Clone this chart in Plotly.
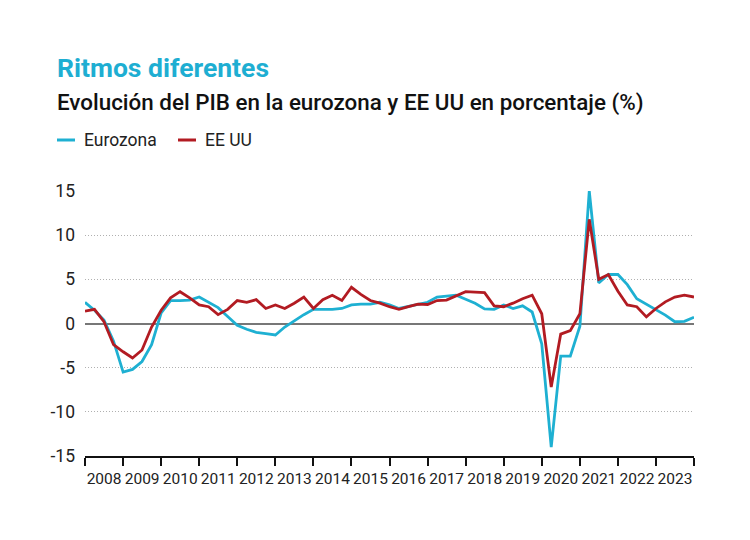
import pandas as pd
import plotly.graph_objects as go

# Quarterly data, 2008-T1 .. 2024-T1 (year-on-year GDP growth, %)
quarters = pd.date_range("2008-01-01", periods=65, freq="QS")

eurozona = [
    2.4, 1.5, 0.4, -2.0, -5.5, -5.2, -4.3, -2.4,
    1.2, 2.6, 2.6, 2.65, 3.0, 2.4, 1.8, 0.8,
    -0.2, -0.65, -1.0, -1.15, -1.3, -0.4, 0.3, 1.0,
    1.6, 1.6, 1.6, 1.7, 2.1, 2.2, 2.2, 2.4,
    2.1, 1.7, 1.95, 2.2, 2.4, 3.0, 3.1, 3.2,
    2.75, 2.3, 1.65, 1.6, 2.1, 1.7, 2.0, 1.3,
    -2.3, -14.0, -3.7, -3.7, -0.3, 15.0, 4.6, 5.55,
    5.55, 4.4, 2.8, 2.2, 1.6, 0.95, 0.2, 0.25,
    0.7,
]

eeuu = [
    1.4, 1.6, 0.2, -2.4, -3.2, -3.9, -3.0, -0.4,
    1.5, 2.9, 3.6, 2.9, 2.1, 1.9, 1.0, 1.6,
    2.6, 2.4, 2.7, 1.7, 2.1, 1.7, 2.3, 3.0,
    1.7, 2.7, 3.2, 2.6, 4.1, 3.3, 2.6, 2.3,
    1.9, 1.6, 1.9, 2.2, 2.15, 2.6, 2.65, 3.1,
    3.6, 3.55, 3.5, 2.0, 1.9, 2.3, 2.8, 3.2,
    1.1, -7.2, -1.2, -0.8, 1.1, 11.8, 5.0, 5.55,
    3.65, 2.1, 1.9, 0.75, 1.7, 2.45, 3.0, 3.2,
    3.0,
]

series_names = ["Eurozona", "EE UU"]
series_colors = ["#1eb0d2", "#b21b22"]
y_ticks = [-15, -10, -5, 0, 5, 10, 15]
y_tick_labels = ["-15", "-10", "-5", "0", "5", "10", "15"]

title_text = "Ritmos diferentes"
subtitle_text = "Evolución del PIB en la eurozona y EE UU en porcentaje (%)"

W, H = 750, 540
ML, MR, MT, MB = 85, 56, 191, 84
PW, PH = W - ML - MR, H - MT - MB


def px(x):
    return (x - ML) / PW


def py(y):
    return (H - MB - y) / PH


FONT = "Roboto"

fig = go.Figure()
for name, vals, col in zip(series_names, [eurozona, eeuu], series_colors):
    fig.add_trace(go.Scatter(
        x=quarters, y=vals, mode="lines", name=name,
        line=dict(color=col, width=2.8), showlegend=False,
    ))

fig.update_layout(
    width=W, height=H,
    margin=dict(l=ML, r=MR, t=MT, b=MB),
    paper_bgcolor="white", plot_bgcolor="white",
    font=dict(family=FONT, color="#222222"),
    xaxis=dict(
        type="date",
        range=["2008-01-01", "2024-01-01"],
        tick0="2008-01-01", dtick="M12", tickformat="%Y",
        ticklabelmode="period",
        ticks="outside", ticklen=8, tickwidth=1.5, tickcolor="#111111",
        showline=True, linecolor="#111111", linewidth=1.5,
        showgrid=False, zeroline=False,
        tickfont=dict(size=15.5, color="#222222", family=FONT),
    ),
    yaxis=dict(
        range=[-15, 15],
        tickvals=y_ticks, ticktext=y_tick_labels,
        showgrid=True, gridcolor="#b0b0b0", griddash="1px,2px", gridwidth=1,
        zeroline=True, zerolinecolor="#777777", zerolinewidth=1.5,
        showline=False, ticks="",
        ticklabelstandoff=9,
        tickfont=dict(size=17.5, color="#222222", family=FONT),
    ),
)

# Title and subtitle
fig.add_annotation(
    text=f"<b>{title_text}</b>", xref="paper", yref="paper",
    x=px(55), y=py(67), xanchor="left", yanchor="middle", showarrow=False,
    font=dict(size=26.5, color="#1eaed2", family=FONT),
)
fig.add_annotation(
    text=subtitle_text, xref="paper", yref="paper",
    x=px(55), y=py(102), xanchor="left", yanchor="middle", showarrow=False,
    font=dict(size=22.4, color="#111111", family=FONT, weight=500),
)

# Legend (manual, compact swatches)
legend_x = [57, 178]
for name, col, lx in zip(series_names, series_colors, legend_x):
    fig.add_shape(
        type="line", xref="paper", yref="paper",
        x0=px(lx), x1=px(lx + 18), y0=py(140), y1=py(140),
        line=dict(color=col, width=3),
    )
    fig.add_annotation(
        text=name, xref="paper", yref="paper",
        x=px(lx + 25), y=py(140), xanchor="left", yanchor="middle",
        showarrow=False, font=dict(size=17.5, color="#222222", family=FONT),
    )

fig.write_html("out.html")
